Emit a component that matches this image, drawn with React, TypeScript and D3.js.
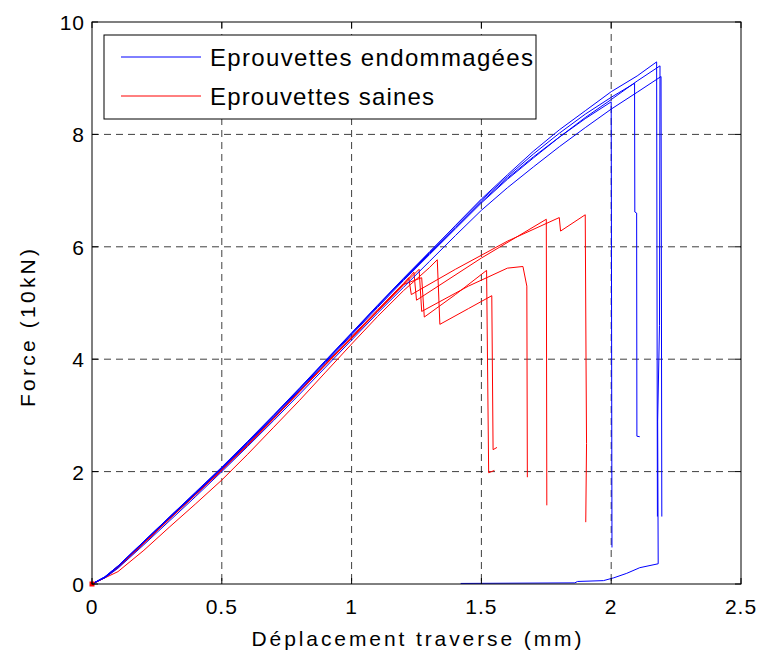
import React from "react";
import * as d3 from "d3";

type P = [number, number];

const xTicks = [0, 0.5, 1, 1.5, 2, 2.5];
const yTicks = [0, 2, 4, 6, 8, 10];
const xTickLabels = ["0", "0.5", "1", "1.5", "2", "2.5"];
const yTickLabels = ["0", "2", "4", "6", "8", "10"];
const legendLabels = ["Eprouvettes endommagées", "Eprouvettes saines"];

const blue1: P[] = [[0,0],[0.05,0.13],[0.1,0.32],[0.2,0.76],[0.3,1.2],[0.4,1.63],[0.5,2.07],[0.6,2.53],[0.7,3.0],[0.8,3.48],[0.9,3.97],[1.0,4.46],[1.1,4.95],[1.2,5.43],[1.3,5.9],[1.4,6.38],[1.5,6.85],[1.6,7.28],[1.7,7.7],[1.8,8.08],[1.9,8.42],[2.0,8.76],[2.1,9.04],[2.175,9.29],[2.178,1.2]];
const blue2: P[] = [[0,0],[0.05,0.12],[0.1,0.31],[0.2,0.75],[0.3,1.18],[0.4,1.61],[0.5,2.05],[0.6,2.5],[0.7,2.97],[0.8,3.45],[0.9,3.94],[1.0,4.43],[1.1,4.92],[1.2,5.4],[1.3,5.86],[1.4,6.32],[1.5,6.78],[1.6,7.2],[1.7,7.58],[1.8,7.95],[1.9,8.3],[2.0,8.62],[2.1,8.95],[2.188,9.22],[2.186,4.6],[2.179,2.9],[2.181,0.36],[2.11,0.29],[2.06,0.19],[2.01,0.11],[1.97,0.06],[1.87,0.045],[1.86,0.02],[1.42,0.01]];
const blue3: P[] = [[0,0],[0.05,0.11],[0.1,0.28],[0.2,0.7],[0.3,1.13],[0.4,1.56],[0.5,2.0],[0.6,2.45],[0.7,2.91],[0.8,3.38],[0.9,3.86],[1.0,4.34],[1.1,4.82],[1.2,5.28],[1.3,5.74],[1.4,6.2],[1.5,6.65],[1.6,7.05],[1.7,7.42],[1.8,7.78],[1.9,8.12],[2.0,8.45],[2.1,8.75],[2.192,9.03],[2.195,1.2]];
const blue4: P[] = [[0,0],[0.05,0.12],[0.1,0.31],[0.2,0.75],[0.3,1.19],[0.4,1.62],[0.5,2.06],[0.6,2.52],[0.7,2.99],[0.8,3.47],[0.9,3.96],[1.0,4.45],[1.1,4.94],[1.2,5.42],[1.3,5.88],[1.4,6.34],[1.5,6.8],[1.6,7.22],[1.7,7.6],[1.8,7.95],[1.9,8.28],[2.0,8.58],[2.003,0.65]];
const blue5: P[] = [[0,0],[0.05,0.13],[0.1,0.32],[0.2,0.76],[0.3,1.2],[0.4,1.64],[0.5,2.08],[0.6,2.54],[0.7,3.01],[0.8,3.49],[0.9,3.98],[1.0,4.47],[1.1,4.96],[1.2,5.44],[1.3,5.91],[1.4,6.37],[1.5,6.83],[1.6,7.25],[1.7,7.65],[1.8,8.02],[1.9,8.36],[2.0,8.66],[2.09,8.91],[2.091,6.62],[2.098,6.6],[2.099,2.63],[2.11,2.62]];

const red1: P[] = [[0,0],[0.05,0.12],[0.1,0.31],[0.2,0.74],[0.3,1.18],[0.4,1.61],[0.5,2.04],[0.6,2.49],[0.7,2.96],[0.8,3.44],[0.9,3.92],[1.0,4.4],[1.1,4.88],[1.2,5.35],[1.22,5.45],[1.23,5.15],[1.4,5.6],[1.6,6.1],[1.8,6.52],[1.805,6.28],[1.9,6.57],[1.903,4.0],[1.905,2.5],[1.902,1.1]];
const red2: P[] = [[0,0],[0.05,0.12],[0.1,0.3],[0.2,0.73],[0.3,1.17],[0.4,1.6],[0.5,2.03],[0.6,2.48],[0.7,2.95],[0.8,3.43],[0.9,3.91],[1.0,4.38],[1.1,4.86],[1.2,5.33],[1.24,5.55],[1.25,5.05],[1.5,5.8],[1.75,6.49],[1.752,1.4]];
const red3: P[] = [[0,0],[0.05,0.11],[0.1,0.29],[0.2,0.72],[0.3,1.16],[0.4,1.59],[0.5,2.02],[0.6,2.47],[0.7,2.94],[0.8,3.42],[0.9,3.9],[1.0,4.37],[1.1,4.85],[1.2,5.32],[1.26,5.6],[1.27,4.85],[1.45,5.3],[1.6,5.62],[1.66,5.65],[1.675,5.3],[1.677,1.9]];
const red4: P[] = [[0,0],[0.1,0.22],[0.2,0.6],[0.3,1.02],[0.4,1.43],[0.5,1.85],[0.6,2.31],[0.7,2.79],[0.8,3.27],[0.9,3.77],[1.0,4.27],[1.1,4.76],[1.2,5.22],[1.3,5.63],[1.33,5.77],[1.34,4.62],[1.45,4.9],[1.54,5.13],[1.545,2.39],[1.56,2.43]];
const red5: P[] = [[0,0],[0.05,0.12],[0.1,0.3],[0.2,0.73],[0.3,1.17],[0.4,1.6],[0.5,2.03],[0.6,2.48],[0.7,2.95],[0.8,3.43],[0.9,3.91],[1.0,4.38],[1.1,4.86],[1.2,5.33],[1.27,5.45],[1.28,4.75],[1.4,5.15],[1.52,5.58],[1.528,1.98],[1.55,2.02]];

const blueSeries = [blue1, blue2, blue3, blue4, blue5];
const redSeries = [red1, red2, red3, red4, red5];

const W = 761, H = 657;
const L = 92, R = 741, T = 22, B = 584;

export default function App() {
  const x = d3.scaleLinear().domain([0, 2.5]).range([L, R]);
  const y = d3.scaleLinear().domain([0, 10]).range([B, T]);
  const line = d3.line<P>().x(d => x(d[0])).y(d => y(d[1]));
  const font = "'Liberation Sans', Arial, Helvetica, sans-serif";
  return (
    <svg width={W} height={H} style={{ position: "absolute", left: 0, top: 0, background: "#fff" }}>
      <rect x={0} y={0} width={W} height={H} fill="#fff" />
      <rect x={L} y={T} width={R - L} height={B - T} fill="#fff" />
      {xTicks.slice(1, -1).map(t => (
        <line key={"gx" + t} x1={x(t)} x2={x(t)} y1={T} y2={B} stroke="#000" strokeWidth={1} strokeDasharray="7,5" opacity={0.75} />
      ))}
      {yTicks.slice(1, -1).map(t => (
        <line key={"gy" + t} x1={L} x2={R} y1={y(t)} y2={y(t)} stroke="#000" strokeWidth={1} strokeDasharray="7,5" opacity={0.75} />
      ))}
      {redSeries.map((s, i) => (
        <path key={"r" + i} d={line(s) || ""} fill="none" stroke="#ff0000" strokeWidth={1} />
      ))}
      {blueSeries.map((s, i) => (
        <path key={"b" + i} d={line(s) || ""} fill="none" stroke="#0000ff" strokeWidth={1} />
      ))}
      <rect x={x(0) - 2.5} y={y(0) - 2.5} width={5} height={5} fill="#ff0000" />
      <rect x={L} y={T} width={R - L} height={B - T} fill="none" stroke="#000" strokeWidth={1} />
      {xTicks.map((t, i) => (
        <g key={"tx" + t}>
          <line x1={x(t)} x2={x(t)} y1={B} y2={B - 6} stroke="#000" />
          <line x1={x(t)} x2={x(t)} y1={T} y2={T + 6} stroke="#000" />
          <text x={x(t)} y={614} textAnchor="middle" fontFamily={font} fontSize={21} letterSpacing={1}>{xTickLabels[i]}</text>
        </g>
      ))}
      {yTicks.map((t, i) => (
        <g key={"ty" + t}>
          <line x1={L} x2={L + 6} y1={y(t)} y2={y(t)} stroke="#000" />
          <line x1={R} x2={R - 6} y1={y(t)} y2={y(t)} stroke="#000" />
          <text x={L - 7} y={y(t) + 8} textAnchor="end" fontFamily={font} fontSize={21} letterSpacing={1}>{yTickLabels[i]}</text>
        </g>
      ))}
      <text x={(L + R) / 2} y={646} textAnchor="middle" fontFamily={font} fontSize={21} textLength={330} lengthAdjust="spacing">Déplacement traverse (mm)</text>
      <text transform={`translate(35,328) rotate(-90)`} textAnchor="middle" fontFamily={font} fontSize={21} textLength={158} lengthAdjust="spacing">Force (10kN)</text>
      <rect x={104} y={35} width={432} height={84} fill="#fff" stroke="#000" strokeWidth={1} />
      <line x1={121} x2={201} y1={57} y2={57} stroke="#0000ff" />
      <line x1={121} x2={201} y1={96} y2={96} stroke="#ff0000" />
      <text x={210} y={66} fontFamily={font} fontSize={24} textLength={323} lengthAdjust="spacing">{legendLabels[0]}</text>
      <text x={210} y={105} fontFamily={font} fontSize={24} textLength={224} lengthAdjust="spacing">{legendLabels[1]}</text>
    </svg>
  );
}
